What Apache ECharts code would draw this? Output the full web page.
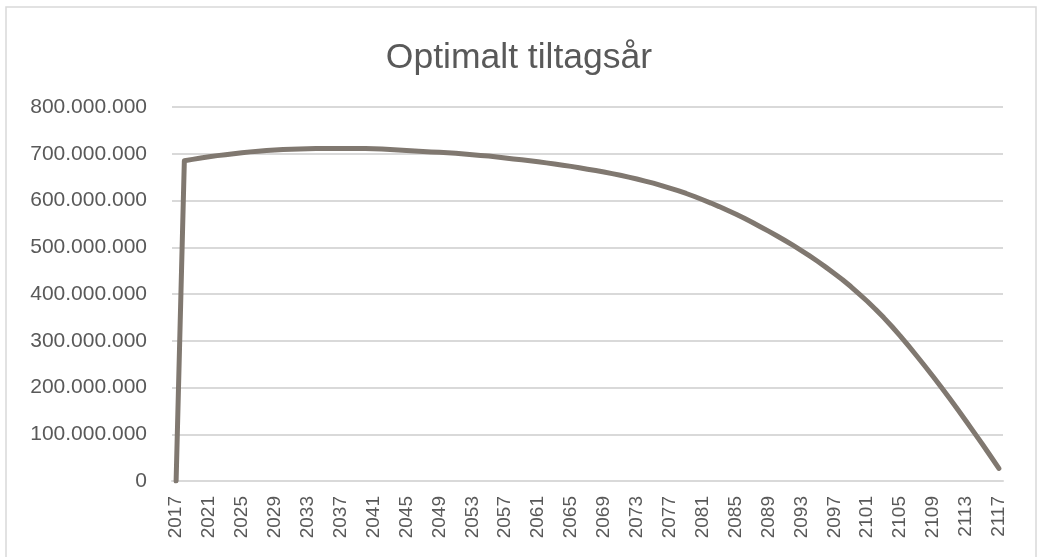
<!DOCTYPE html>
<html>
<head>
<meta charset="utf-8">
<script src="https://cdn.jsdelivr.net/npm/echarts@6/dist/echarts.min.js"></script>
<style>
html,body{margin:0;padding:0;background:#fff;}
#chart{width:1038px;height:557px;}
</style>
</head>
<body>
<div id="chart"></div>
<script>
// Title
const chartTitle = "Optimalt tiltagsår";
// Categories: years 2017..2117
const years = [
  "2017","2018","2019","2020","2021","2022","2023","2024","2025","2026",
  "2027","2028","2029","2030","2031","2032","2033","2034","2035","2036",
  "2037","2038","2039","2040","2041","2042","2043","2044","2045","2046",
  "2047","2048","2049","2050","2051","2052","2053","2054","2055","2056",
  "2057","2058","2059","2060","2061","2062","2063","2064","2065","2066",
  "2067","2068","2069","2070","2071","2072","2073","2074","2075","2076",
  "2077","2078","2079","2080","2081","2082","2083","2084","2085","2086",
  "2087","2088","2089","2090","2091","2092","2093","2094","2095","2096",
  "2097","2098","2099","2100","2101","2102","2103","2104","2105","2106",
  "2107","2108","2109","2110","2111","2112","2113","2114","2115","2116",
  "2117"
];
// Values in millions
const valuesMillions = [
  0,685,688,691,693.5,696,698,700,702,704,
  705.5,707,708,709,709.5,710,710.5,711,711,711,
  711,711,711,711,710.5,710,709,708,707,706,
  705,704,703,702,701,699.5,698,696.5,695,693,
  691,689,687,685,683,680.5,678,675.5,673,670,
  667,664,661,657.5,654,650,646,641.5,637,632,
  626.5,621,615,608.5,601.5,594.5,587,579,571,562.5,
  553.5,544,534.5,524.5,514.5,504,493,481.5,469.5,457,
  444,430.5,416,400.5,384.5,367.5,349.5,330.5,310.5,289.5,
  268,246,223.5,200.5,177,153,128.5,103.5,78.5,53,
  27
];
// Y-axis ticks
const yTicks = [0,100000000,200000000,300000000,400000000,500000000,600000000,700000000,800000000];

const seriesData = valuesMillions.map(v => v * 1000000);
const fmt = v => String(Math.round(v)).replace(/\B(?=(\d{3})+(?!\d))/g, ".");

const chart = echarts.init(document.getElementById('chart'), null, {renderer:'canvas'});
chart.setOption({
  animation:false,
  backgroundColor:'#ffffff',
  title:{
    text:chartTitle,
    left:'center',
    top:35,
    textStyle:{fontFamily:'Liberation Sans',fontSize:35.5,fontWeight:'normal',color:'#595959'}
  },
  graphic:[{
    type:'rect',
    shape:{x:6,y:7,width:1030,height:570},
    style:{fill:'none',stroke:'#d9d9d9',lineWidth:1.5},
    silent:true
  }],
  grid:{left:172,right:35,top:107,bottom:76,containLabel:false},
  xAxis:{
    type:'category',
    data:years,
    boundaryGap:true,
    axisLine:{show:true,lineStyle:{color:'#d9d9d9',width:2}},
    axisTick:{show:false},
    axisLabel:{
      interval:3,
      rotate:90,
      margin:15,
      fontFamily:'Liberation Sans',
      fontSize:19,
      color:'#595959'
    },
    splitLine:{show:false}
  },
  yAxis:{
    type:'value',
    min:yTicks[0],
    max:yTicks[yTicks.length-1],
    interval:100000000,
    axisLine:{show:false},
    axisTick:{show:false},
    axisLabel:{
      margin:25,
      fontFamily:'Liberation Sans',
      fontSize:21,
      color:'#595959',
      formatter:fmt
    },
    splitLine:{show:true,lineStyle:{color:'#d9d9d9',width:2}}
  },
  series:[{
    type:'line',
    data:seriesData,
    showSymbol:false,
    symbol:'none',
    smooth:false,
    lineStyle:{color:'#807870',width:5,join:'round',cap:'round'},
    itemStyle:{color:'#807870'}
  }]
});
</script>
</body>
</html>
